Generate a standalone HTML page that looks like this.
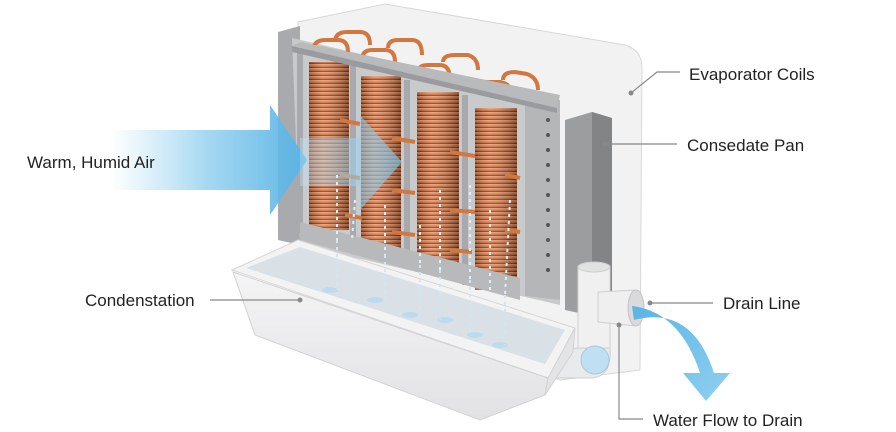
<!DOCTYPE html>
<html><head><meta charset="utf-8"><style>
html,body{margin:0;padding:0;background:#fff;}
svg{display:block;}
text{font-family:"Liberation Sans",sans-serif;font-size:17px;fill:#222;}
</style></head><body>
<svg width="896" height="432" viewBox="0 0 896 432" xmlns="http://www.w3.org/2000/svg">
<defs>
<linearGradient id="air" x1="0" x2="1" y1="0" y2="0">
<stop offset="0" stop-color="#8fd0f0" stop-opacity="0"/>
<stop offset="0.5" stop-color="#7cc6ec" stop-opacity="0.7"/>
<stop offset="1" stop-color="#5ab4e4"/>
</linearGradient>
<linearGradient id="air2" x1="0" x2="1">
<stop offset="0" stop-color="#bfe3f6" stop-opacity="0.5"/>
<stop offset="1" stop-color="#7cc6ec" stop-opacity="0.9"/>
</linearGradient>
<pattern id="coil" width="6" height="4" patternUnits="userSpaceOnUse">
<rect width="6" height="4" fill="#c7683a"/>
<rect y="0" width="6" height="1.6" fill="#e8976a"/>
<rect y="3" width="6" height="1" fill="#8a3f1c"/>
</pattern>
<linearGradient id="cyl" x1="0" x2="1">
<stop offset="0" stop-color="#000" stop-opacity="0.25"/>
<stop offset="0.35" stop-color="#fff" stop-opacity="0.15"/>
<stop offset="1" stop-color="#000" stop-opacity="0.35"/>
</linearGradient>
<linearGradient id="water" x1="0" x2="1" y1="0" y2="1">
<stop offset="0" stop-color="#5ab4e4"/><stop offset="1" stop-color="#8fd0f0"/>
</linearGradient>
<linearGradient id="front" x1="0" x2="0" y1="0" y2="1">
<stop offset="0" stop-color="#f4f4f5"/><stop offset="1" stop-color="#e2e2e4"/>
</linearGradient>
</defs>

<!-- housing -->
<path d="M298 22 L385 4 L625 45 Q642 50 642 68 L640 370 L560 380 L298 300 Z" fill="#f2f2f3" stroke="#d8d8da"/>
<path d="M278 32 L300 26 L300 245 L278 240 Z" fill="#a9aaad"/>
<path d="M292 38 L560 100 L560 305 L300 245 Z" fill="#c9cacc"/>
<path d="M525 98 L560 100 L560 300 L525 296 Z" fill="#b5b6b8"/>
<g fill="#555">
<circle cx="548" cy="120" r="2"/><circle cx="548" cy="135" r="2"/><circle cx="548" cy="150" r="2"/><circle cx="548" cy="165" r="2"/><circle cx="548" cy="180" r="2"/><circle cx="548" cy="195" r="2"/><circle cx="548" cy="210" r="2"/><circle cx="548" cy="225" r="2"/><circle cx="548" cy="240" r="2"/><circle cx="548" cy="255" r="2"/><circle cx="548" cy="270" r="2"/>
</g>
<path d="M565 120 L592 112 L612 118 L612 320 L565 310 Z" fill="#9c9d9f"/>
<path d="M592 112 L612 118 L612 320 L592 318 Z" fill="#838486"/>

<!-- coils -->
<g>
<rect x="309" y="62" width="40" height="168" fill="url(#coil)"/><rect x="309" y="62" width="40" height="168" fill="url(#cyl)"/>
<rect x="361" y="76" width="40" height="172" fill="url(#coil)"/><rect x="361" y="76" width="40" height="172" fill="url(#cyl)"/>
<rect x="417" y="92" width="42" height="178" fill="url(#coil)"/><rect x="417" y="92" width="42" height="178" fill="url(#cyl)"/>
<rect x="475" y="108" width="42" height="182" fill="url(#coil)"/><rect x="475" y="108" width="42" height="182" fill="url(#cyl)"/>
</g>
<g fill="#a8a9ac"><rect x="350" y="65" width="6" height="180"/><rect x="404" y="80" width="6" height="185"/><rect x="462" y="95" width="6" height="190"/><rect x="297" y="48" width="6" height="185"/></g>
<g fill="none" stroke="#d2773f" stroke-width="4">
<path d="M313 52 Q313 40 325 40 L338 40 Q348 40 348 52"/>
<path d="M335 42 Q335 32 347 32 L360 32 Q370 32 370 45"/>
<path d="M362 60 Q362 50 372 50 L385 50 Q395 50 395 62"/>
<path d="M388 48 Q388 40 398 40 L412 40 Q422 40 422 55"/>
<path d="M417 75 Q417 65 428 65 L440 65 Q450 65 450 80"/>
<path d="M443 62 Q443 55 455 55 L468 55 Q478 58 478 70"/>
<path d="M476 92 Q476 82 488 82 L500 82 Q512 84 512 96"/>
<path d="M503 80 Q503 72 515 72 L527 74 Q538 78 538 90"/>
<path d="M340 120 L360 124 M340 175 L360 178 M345 215 L362 218 M392 138 L415 142 M392 190 L415 193 M392 232 L415 235 M450 152 L475 156 M450 210 L475 212 M450 250 L472 252 M505 175 L520 178 M505 230 L520 232"/>
</g>
<path d="M292 46 L300 42 L560 95 L557 108 Z" fill="#b9babc"/>
<path d="M292 46 L557 108 L557 113 L292 52 Z" fill="#9a9b9e"/>
<path d="M300 222 L520 278 L520 300 L300 240 Z" fill="#b8b9bb"/>

<!-- air arrows -->
<path d="M110 130 L270 130 L270 105 L307 160 L270 215 L270 190 L110 190 Z" fill="url(#air)"/>
<path d="M300 138 L360 138 L360 115 L402 162 L360 210 L360 186 L300 186 Z" fill="url(#air2)" opacity="0.75"/>

<g stroke="#dfeef7" stroke-width="2" stroke-dasharray="3 4" fill="none">
<path d="M337 175 L337 240"/><path d="M355 200 L352 240"/><path d="M385 205 L385 255"/><path d="M420 225 L420 265"/><path d="M440 190 L440 270"/><path d="M470 185 L470 280"/><path d="M490 210 L490 290"/><path d="M510 200 L505 295"/>
</g>

<!-- pipes (behind tray right) -->
<rect x="578" y="266" width="32" height="82" fill="#f0f0f1" stroke="#cfcfd1"/>
<ellipse cx="594" cy="267" rx="16" ry="5" fill="#e2e2e3" stroke="#cfcfd1"/>
<path d="M598 292 L636 290 L636 326 L598 322 Z" fill="#efeff0" stroke="#cfcfd1"/>
<ellipse cx="636" cy="308" rx="8" ry="18" fill="#dadadc" stroke="#c4c4c6"/>
<path d="M610 348 Q612 378 590 378 L555 378 L555 350 L578 348 Z" fill="#e9eaeb" stroke="#cfcfd1"/>
<ellipse cx="595" cy="360" rx="14" ry="14" fill="#bfe0f2" stroke="#a9c9dc"/>

<!-- tray -->
<path d="M232 270 L298 240 L575 328 L548 378 Z" fill="#f3f3f4" stroke="#d6d6d8"/>
<path d="M246 268 L300 247 L565 330 L545 364 Z" fill="#d9e0e6"/>
<path d="M233 272 L548 378 L545 395 L480 420 L255 335 Z" fill="url(#front)" stroke="#d2d2d4"/>
<path d="M548 378 L575 328 L573 352 L545 395 Z" fill="#e4e4e6" stroke="#d2d2d4"/>
<g fill="#b6dcef" opacity="0.8">
<ellipse cx="330" cy="290" rx="8" ry="3"/><ellipse cx="375" cy="300" rx="8" ry="3"/><ellipse cx="410" cy="315" rx="8" ry="3"/><ellipse cx="445" cy="320" rx="8" ry="3"/><ellipse cx="475" cy="335" rx="8" ry="3"/><ellipse cx="500" cy="345" rx="8" ry="3"/>
</g>
<g stroke="#cfe6f3" stroke-width="2" stroke-dasharray="3 4" fill="none">
<path d="M337 240 L337 290"/><path d="M385 255 L385 305"/><path d="M420 265 L420 315"/><path d="M440 270 L440 320"/><path d="M470 280 L470 335"/><path d="M505 295 L505 345"/>
</g>

<!-- water flow arrow -->
<path d="M632 306 Q680 312 700 373 L683 373 L706 401 L730 373 L714 373 Q692 305 634 320 Z" fill="url(#water)"/>

<g stroke="#888" stroke-width="1.2" fill="none">
<path d="M631 93 L657 72 L680 72"/>
<path d="M605 144 L677 144"/>
<path d="M210 300 L300 300"/>
<path d="M650 303 L713 303"/>
<path d="M619 325 L619 419 L643 419"/>
</g>
<g fill="#888">
<circle cx="631" cy="93" r="2.5"/><circle cx="605" cy="144" r="2.5"/><circle cx="300" cy="300" r="2.5"/><circle cx="650" cy="303" r="2.5"/><circle cx="619" cy="325" r="2.5"/>
</g>

<text x="689" y="80">Evaporator Coils</text>
<text x="687" y="151">Consedate Pan</text>
<text x="27" y="168">Warm, Humid Air</text>
<text x="85" y="306">Condenstation</text>
<text x="723" y="309">Drain Line</text>
<text x="653" y="426">Water Flow to Drain</text>
</svg>
</body></html>
